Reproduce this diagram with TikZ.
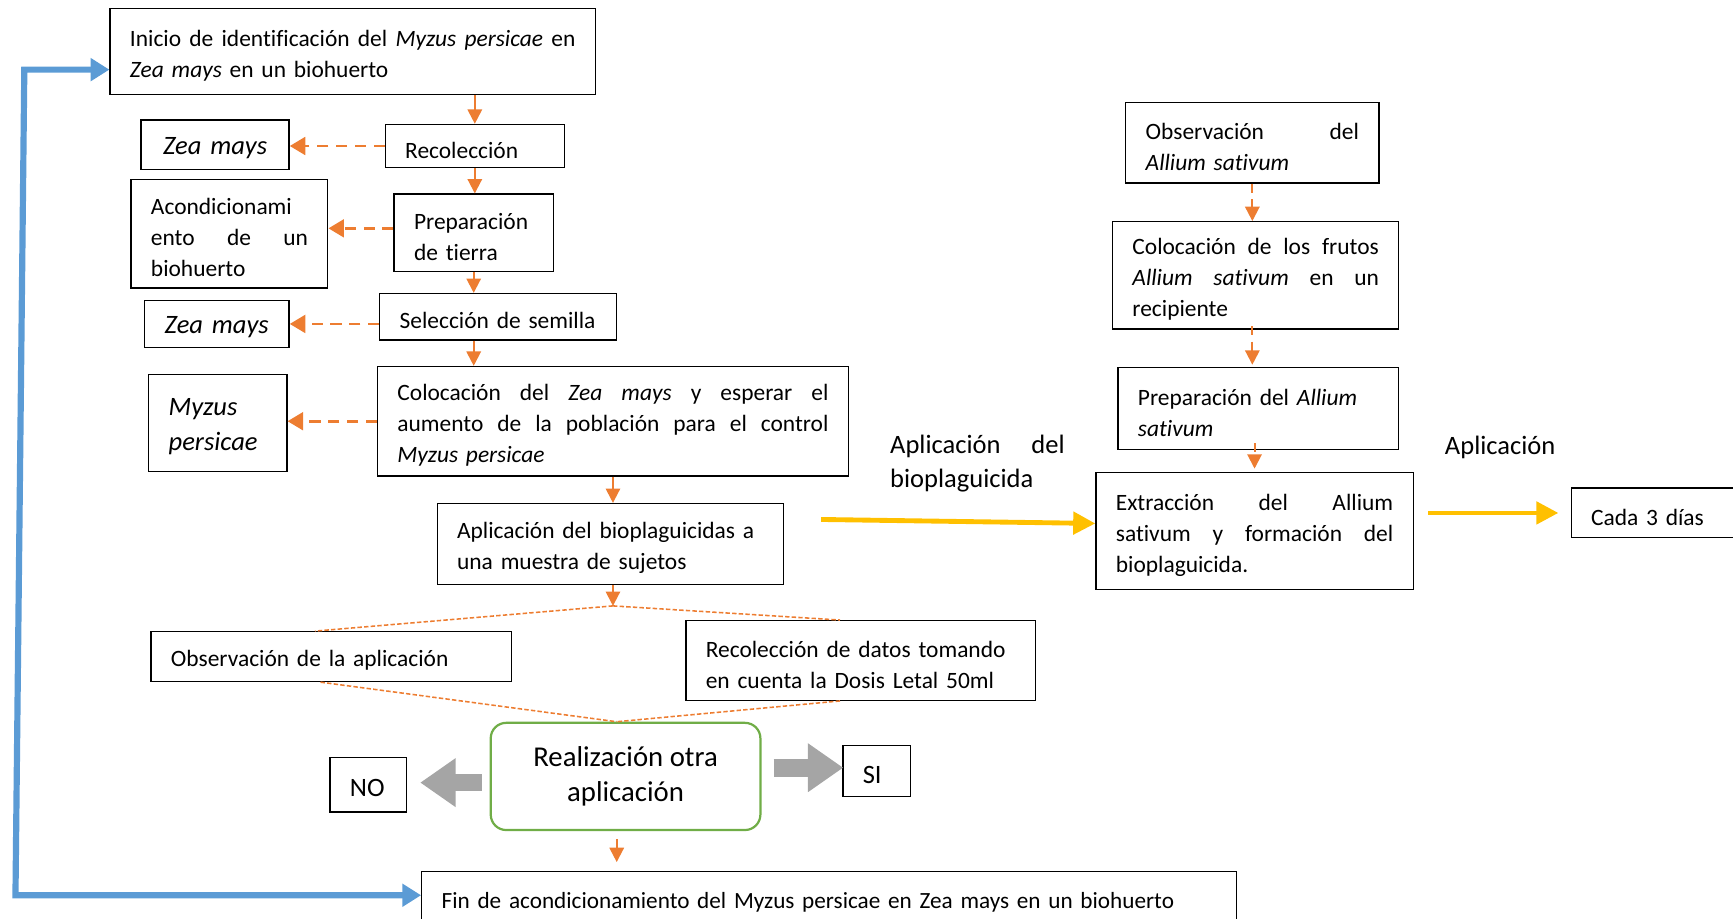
\documentclass[tikz,border=0pt]{standalone}
\usepackage{fontspec}
\setmainfont{Carlito}[Ligatures=NoCommon]
\usetikzlibrary{arrows.meta,calc}
\definecolor{orng}{HTML}{ED7D31}
\definecolor{ylw}{HTML}{FFC000}
\definecolor{blu}{HTML}{5B9BD5}
\definecolor{gry}{HTML}{A5A5A5}
\definecolor{grn}{HTML}{70AD47}
\newcommand\jl[2]{\leavevmode\hbox to #1{\spaceskip=\fontdimen2\font plus 1fil\relax #2}}
\begin{document}
\begin{tikzpicture}[x=0.5pt,y=-0.5pt,
  box/.style={draw, line width=0.6pt, anchor=north west, inner xsep=9pt, inner ysep=2pt, align=left,
    font=\fontsize{10.6}{14}\selectfont, execute at begin node={\rule{0pt}{11pt}}},
  big/.style={font=\fontsize{12}{16}\selectfont},
  lbl/.style={inner sep=0pt, align=left, font=\fontsize{12}{15.5}\selectfont},
  oarr/.style={draw=orng, line width=0.9pt, -{Triangle[length=6.5pt,width=6.5pt]}},
  oadash/.style={draw=orng, line width=0.9pt, dash pattern=on 4pt off 3pt, -{Triangle[length=6.5pt,width=6.5pt]}},
  odash/.style={draw=orng, line width=1.3pt, dash pattern=on 5pt off 3.5pt, -{Triangle[length=7pt,width=8pt]}},
  othin/.style={draw=orng, line width=0.7pt, dash pattern=on 2pt off 1pt},
  yarr/.style={draw=ylw, line width=2.2pt, -{Triangle[length=10pt,width=10pt]}},
  garr/.style={draw=gry, line width=8pt, -{Triangle[length=16pt,width=21pt]}},
  barr/.style={draw=blu, line width=2.8pt, {Triangle[length=8.5pt,width=10pt]}-{Triangle[length=8.5pt,width=10pt]}}
]
\useasboundingbox (0,0) rectangle (1568,831);

% left column
\node[box, text width=201.5pt, minimum height=39pt] (top) at (99,7)
  {\jl{201.5pt}{Inicio de identificación del \textit{Myzus persicae} en}\\\textit{Zea mays} en un biohuerto};
\node[box, big, text width=49pt, minimum height=22.5pt, align=center] (zm1) at (127,108) {\mbox{\textit{Zea mays}}};
\node[box, text width=63pt, minimum height=19.5pt] (rec) at (348,112) {\mbox{Recolección}};
\node[box, text width=71pt, minimum height=49pt] (acond) at (118,162) {Acondicionami\\\jl{71pt}{ento de un}\\biohuerto};
\node[box, text width=54pt, minimum height=35pt] (prep) at (356,175) {Preparación\\de tierra};
\node[box, big, text width=47.5pt, minimum height=21.5pt, align=center] (zm2) at (130,271) {\mbox{\textit{Zea mays}}};
\node[box, text width=89pt, minimum height=21pt] (sel) at (343,265) {\mbox{Selección de semilla}};
\node[box, big, text width=44.5pt, minimum height=44pt] (myz) at (134,338) {\textit{Myzus}\\\textit{persicae}};
\node[box, text width=195pt, minimum height=49.5pt] (coloc) at (341,331)
  {\jl{195pt}{Colocación del \textit{Zea mays} y esperar el}\\\jl{195pt}{aumento de la población para el control}\\\textit{Myzus persicae}};
\node[box, text width=138.5pt, minimum height=36.5pt] (aplic) at (395,455)
  {\mbox{Aplicación del bioplaguicidas a}\\\mbox{una muestra de sujetos}};
\node[box, text width=145pt, minimum height=22.5pt] (obs) at (136,571) {\mbox{Observación de la aplicación}};
\node[box, text width=140pt, minimum height=36pt] (datos) at (620,561)
  {\mbox{Recolección de datos tomando}\\\mbox{en cuenta la Dosis Letal 50ml}};
\node[draw=grn, line width=1pt, rounded corners=7pt, anchor=north west, minimum width=122pt, minimum height=48.5pt,
  align=center, font=\fontsize{13}{16}\selectfont] (real) at (443,653) {Realización otra\\aplicación};
\node[box, big, text width=16.5pt, minimum height=24.5pt] (no) at (298,685) {\mbox{NO}};
\node[box, big, text width=12.5pt, minimum height=23pt] (si) at (762,674) {\mbox{SI}};
\node[box, font=\fontsize{10.5}{14}\selectfont, text width=350.5pt, minimum height=24pt] (fin) at (381,788)
  {\mbox{Fin de acondicionamiento del Myzus persicae en Zea mays en un biohuerto}};

% right column
\node[box, text width=96.5pt, minimum height=36.5pt] (obsA) at (1018,92) {\jl{96.5pt}{Observación del}\\\textit{Allium sativum}};
\node[box, text width=111.5pt, minimum height=48.5pt] (colA) at (1006,200)
  {\jl{111.5pt}{Colocación de los frutos}\\\jl{111.5pt}{\textit{Allium sativum} en un}\\recipiente};
\node[box, text width=109pt, minimum height=37pt] (prepA) at (1011,332) {\mbox{Preparación del \textit{Allium}}\\\textit{sativum}};
\node[box, text width=125.5pt, minimum height=53pt] (ext) at (991,427)
  {\jl{125.5pt}{Extracción del Allium}\\\jl{125.5pt}{sativum y formación del}\\bioplaguicida.};
\node[box, text width=62pt, minimum height=22.5pt] (cada) at (1421,441) {\mbox{Cada 3 días}};

\node[lbl, text width=79pt, anchor=base west] (l1) at (805,410) {\jl{79pt}{Aplicación del}\\bioplaguicida};
\node[lbl, anchor=base west] (l2) at (1307,411) {Aplicación};

% orange flow arrows
\draw[oarr] (top.south -| rec.north) -- (rec.north);
\draw[oarr] (rec.south) -- (rec.south |- prep.north);
\draw[oarr] (prep.south) -- (prep.south |- sel.north);
\draw[oarr] (prep.south |- sel.south) -- (prep.south |- coloc.north);
\draw[oarr] (coloc.south) -- (coloc.south |- aplic.north);
\coordinate (s1) at ($(coloc.south |- aplic.south)+(0,19)$);
\draw[oarr] (coloc.south |- aplic.south) -- (s1);
\draw[othin] (s1) -- ($(obs.north west)+(149,0)$);
\draw[othin] (s1) -- ($(datos.north west)+(140,0)$);
\coordinate (s2) at ($(real.north)+(-8,0)$);
\draw[othin] ($(obs.south west)+(154,0)$) -- (s2);
\draw[othin] ($(datos.south west)+(140,0)$) -- (s2);
\draw[oarr] ($(real.south)+(-8,7)$) -- ($(real.south)+(-8,28)$);

% dashed side arrows
\draw[odash] (rec.west) -- (rec.west -| zm1.east);
\draw[odash] ($(prep.west)+(0,-4)$) -- ($(prep.west -| acond.east)+(0,-4)$);
\draw[odash] (sel.west |- zm2.east) -- (zm2.east);
\draw[odash] (coloc.west) -- (coloc.west -| myz.east);

% Allium arrows
\draw[oadash] (obsA.south) -- (obsA.south |- colA.north);
\draw[oadash] ($(colA.south)+(-3,-3)$) -- ($(colA.south |- prepA.north)+(-3,-2)$);
\draw[oadash] ($(prepA.south -| ext.north)+(0,-6)$) -- ($(ext.north)+(0,-3)$);

% yellow arrows
\coordinate (y1) at (743,470);
\draw[yarr] (y1) -- ($(ext.west)+(0,-7)$);
\draw[yarr] ($(ext.east |- cada.west)+(13,0)$) -- ($(cada.west)+(-11,0)$);

% gray arrows
\draw[garr] ($(real.west |- no.east)+(-7,-2)$) -- ($(no.east)+(12,-2)$);
\draw[garr] ($(real.east |- si.west)+(11,-3)$) -- ($(si.west)+(1,-3)$);

% blue loop
\coordinate (b2) at (22,63);
\coordinate (b1) at (14,810);
\draw[barr] (b2 -| top.west) -- (b2) -- (b1) -- (b1 -| fin.west);
\end{tikzpicture}
\end{document}
